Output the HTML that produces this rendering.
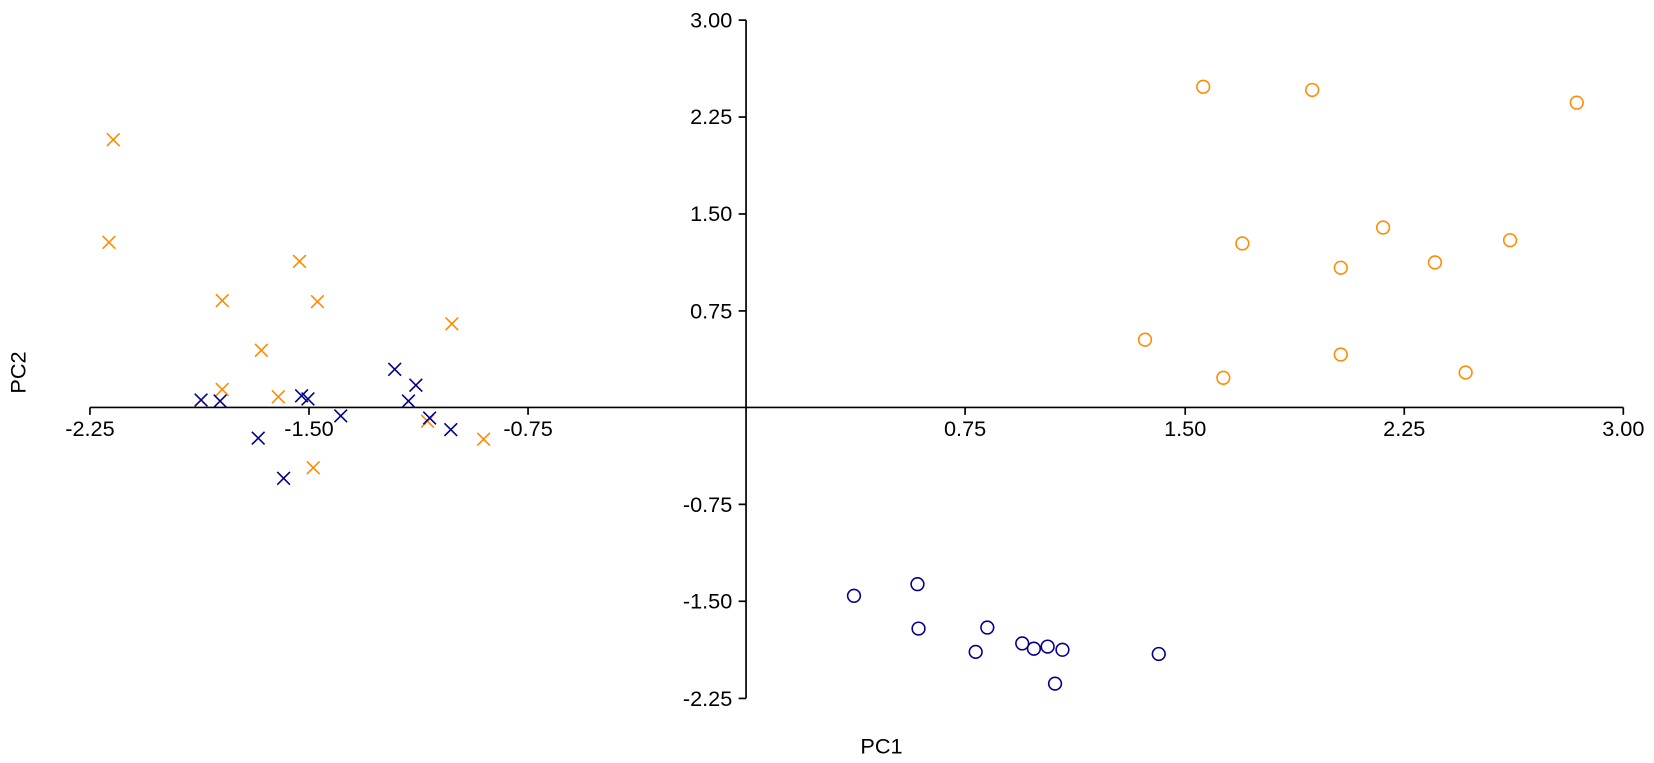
<!DOCTYPE html>
<html><head><meta charset="utf-8"><style>html,body{margin:0;padding:0;background:#fff}svg{display:block}</style></head>
<body>
<svg width="1654" height="763" viewBox="0 0 1563 721" xmlns="http://www.w3.org/2000/svg" font-family="Liberation Sans, Arial, sans-serif">
<g stroke="#000" stroke-width="1.6" fill="none">
<line x1="85" y1="385" x2="1534" y2="385"/>
<line x1="705" y1="19" x2="705" y2="660"/>
<line x1="85" y1="385" x2="85" y2="392"/>
<line x1="292" y1="385" x2="292" y2="392"/>
<line x1="499" y1="385" x2="499" y2="392"/>
<line x1="912" y1="385" x2="912" y2="392"/>
<line x1="1120" y1="385" x2="1120" y2="392"/>
<line x1="1327" y1="385" x2="1327" y2="392"/>
<line x1="1534" y1="385" x2="1534" y2="392"/>
<line x1="698" y1="19" x2="705" y2="19"/>
<line x1="698" y1="110.6" x2="705" y2="110.6"/>
<line x1="698" y1="202.2" x2="705" y2="202.2"/>
<line x1="698" y1="293.8" x2="705" y2="293.8"/>
<line x1="698" y1="476.6" x2="705" y2="476.6"/>
<line x1="698" y1="568.2" x2="705" y2="568.2"/>
<line x1="698" y1="660" x2="705" y2="660"/>
</g>
<g font-size="20.5" fill="#000" text-anchor="middle">
<text x="85" y="412">-2.25</text><text x="292" y="412">-1.50</text><text x="499" y="412">-0.75</text>
<text x="912" y="412">0.75</text><text x="1120" y="412">1.50</text><text x="1327" y="412">2.25</text><text x="1534" y="412">3.00</text>
</g>
<g font-size="20.5" fill="#000" text-anchor="end">
<text x="692" y="26">3.00</text><text x="692" y="117">2.25</text><text x="692" y="209">1.50</text><text x="692" y="301">0.75</text>
<text x="692" y="484">-0.75</text><text x="692" y="575">-1.50</text><text x="692" y="667">-2.25</text>
</g>
<text x="833" y="712" font-size="20.5" text-anchor="middle">PC1</text>
<text transform="translate(24,352) rotate(-90)" font-size="20.5" text-anchor="middle">PC2</text>
<g fill="none" stroke="#ff8c00" stroke-width="1.5">
<circle cx="1137" cy="82" r="6"/><circle cx="1240" cy="85" r="6"/><circle cx="1490" cy="97" r="6"/><circle cx="1307" cy="215" r="6"/><circle cx="1174" cy="230" r="6"/><circle cx="1427" cy="227" r="6"/><circle cx="1356" cy="248" r="6"/><circle cx="1267" cy="253" r="6"/><circle cx="1082" cy="321" r="6"/><circle cx="1267" cy="335" r="6"/><circle cx="1385" cy="352" r="6"/><circle cx="1156" cy="357" r="6"/>
</g>
<g fill="none" stroke="#00008b" stroke-width="1.5">
<circle cx="807" cy="563" r="6"/><circle cx="867" cy="552" r="6"/><circle cx="868" cy="594" r="6"/><circle cx="933" cy="593" r="6"/><circle cx="922" cy="616" r="6"/><circle cx="966" cy="608" r="6"/><circle cx="977" cy="613" r="6"/><circle cx="990" cy="611" r="6"/><circle cx="1004" cy="614" r="6"/><circle cx="1095" cy="618" r="6"/><circle cx="997" cy="646" r="6"/>
</g>
<defs><path id="x" d="M-6,-6L6,6M-6,6L6,-6"/></defs>
<g stroke="#ff8c00" stroke-width="1.5">
<use href="#x" x="107" y="132"/><use href="#x" x="103" y="229"/><use href="#x" x="283" y="247"/><use href="#x" x="210" y="284"/><use href="#x" x="300" y="285"/><use href="#x" x="427" y="306"/><use href="#x" x="247" y="331"/><use href="#x" x="210" y="368"/><use href="#x" x="263" y="375"/><use href="#x" x="404" y="398"/><use href="#x" x="457" y="415"/><use href="#x" x="296" y="442"/>
</g>
<g stroke="#00008b" stroke-width="1.5">
<use href="#x" x="190" y="378"/><use href="#x" x="208" y="379"/><use href="#x" x="285" y="374"/><use href="#x" x="291" y="377"/><use href="#x" x="373" y="349"/><use href="#x" x="393" y="364"/><use href="#x" x="386" y="379"/><use href="#x" x="322" y="393"/><use href="#x" x="406" y="395"/><use href="#x" x="426" y="406"/><use href="#x" x="244" y="414"/><use href="#x" x="268" y="452"/>
</g>
</svg>
</body></html>
